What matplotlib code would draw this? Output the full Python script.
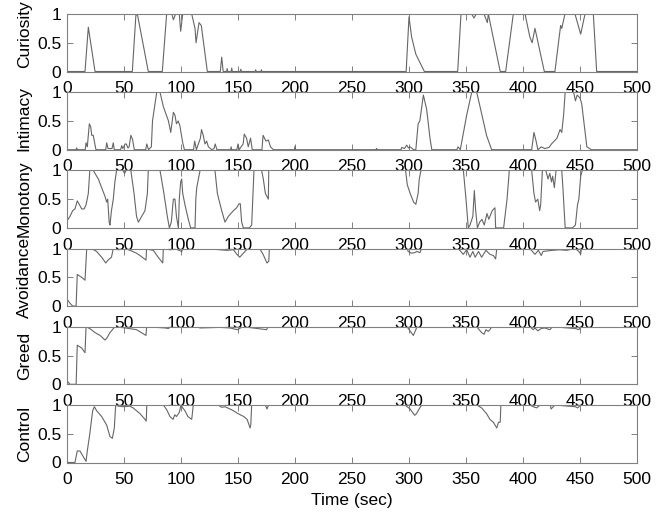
import numpy as np
import matplotlib
matplotlib.use("Agg")
import matplotlib.pyplot as plt

plt.rcParams['font.family'] = ['Liberation Sans', 'DejaVu Sans']

# emotion traces over time (sec, level 0..1)
curiosity_t = [0, 15.8, 18.7, 24.6, 57.3, 60.5, 62, 67, 71.3, 83.6, 87.4, 92, 93.3, 95.3, 98.5, 99.7, 101.5,
               109.4, 112.3, 113.2, 115.8, 117.8, 123.1, 134.5, 135.7, 137, 140, 140.5, 141, 144, 144.5, 145,
               152, 152.5, 153, 165, 165.5, 166, 170, 170.5, 171, 297.5, 300, 302.3, 306, 313.5, 342.7, 345.6,
               355, 357, 359, 365.8, 368.7, 369.6, 380, 384.8, 391.5, 401.8, 406, 408, 410.5, 418.7, 428, 433,
               434, 436.8, 445.6, 450.6, 454.4, 461.7, 464.6, 500]
curiosity_v = [0, 0, 0.77, 0, 0, 1, 0.97, 0.45, 0, 0, 1, 1, 0.9, 1, 1, 0.7, 1,
               1, 0.75, 0.5, 0.85, 0.8, 0, 0, 0.25, 0, 0, 0.05, 0, 0, 0.06, 0,
               0, 0.04, 0, 0, 0.03, 0, 0, 0.03, 0, 0, 0.95, 0.6, 0.3, 0, 0, 1,
               1, 0.93, 1, 1, 0.85, 1, 0, 0, 1, 1, 0.6, 0.5, 0.75, 0, 0, 0.8,
               0.75, 1, 1, 0.65, 1, 1, 0, 0]

intimacy_t = [0, 8, 8.5, 9, 16, 16.7, 17.8, 19.6, 20.8, 21.7, 23, 25.4, 34, 34.8, 36, 39.5, 40.6, 41.5, 47, 48,
              49, 51, 52, 53.5, 54.5, 56, 57.5, 59, 69, 70, 71.5, 74, 75, 78.7, 81.6, 84.5, 89, 91, 93.3, 94.7,
              96, 97.5, 99, 101.5, 103, 111, 112, 113.5, 117, 118, 119.5, 121, 122.5, 124, 127, 129, 130, 131.5,
              143.5, 144, 144.5, 149, 150, 151, 154.5, 155.5, 157.5, 159, 161, 162.5, 171, 172, 174.5, 176.6,
              178.5, 181, 199.5, 200, 200.5, 271, 271.6, 272, 293, 293.6, 296, 298, 299.5, 301, 304, 306, 308,
              309.5, 312.6, 315.5, 318.4, 320, 342, 343, 345, 350.6, 355, 359.4, 362.3, 368, 372.5, 407.6, 409.6,
              411.5, 413, 416, 419, 422.8, 425, 429.8, 432.5, 434, 435.6, 437, 444.4, 446, 447.5, 450, 451.5,
              456, 460, 500]
intimacy_v = [0, 0, 0.03, 0, 0, 0.12, 0.05, 0.45, 0.4, 0.25, 0.25, 0, 0, 0.12, 0.02, 0.02, 0.12, 0, 0, 0.07,
              0.02, 0.1, 0.1, 0.03, 0.05, 0.25, 0.18, 0, 0, 0.1, 0, 0.05, 0.5, 1, 1, 0.75, 0.5, 0.3, 0.65, 0.6,
              0.45, 0.5, 0.42, 0.12, 0, 0, 0.15, 0, 0.2, 0.35, 0.25, 0.1, 0.15, 0.05, 0, 0.02, 0.1, 0,
              0, 0.05, 0, 0, 0.1, 0, 0.1, 0.27, 0.2, 0.05, 0.2, 0, 0, 0.25, 0.15, 0.17,
              0.05, 0, 0, 0.06, 0, 0, 0.02, 0, 0, 0.04, 0.02, 0.08, 0.03, 0.05, 0, 0, 0.45,
              0.5, 0.95, 0.7, 0.2, 0, 0, 0.05, 0, 0.6, 1, 1, 0.75, 0.25, 0, 0, 0.3,
              0.15, 0, 0.05, 0.02, 0.04, 0.1, 0.2, 0.35, 0.3, 0.6, 1, 1, 0.85, 0.95, 0.9, 0.8,
              0.05, 0, 0]

monotony_t = [0, 2.6, 5, 7, 9, 11, 12.9, 15, 16.7, 18.7, 20, 23, 27.5, 30.4, 33.3, 34.8, 35.7, 37, 37.7, 39,
              40.6, 42, 43.5, 49, 50.5, 52, 56, 58.8, 61, 62.6, 65.5, 68.4, 70.5, 71.3, 81.6, 85, 88, 89.8,
              91.5, 93.3, 94.7, 96, 97.7, 98.5, 99.7, 100.6, 101.5, 103.5, 106.4, 108.5, 112.3, 113, 113.8,
              116.7, 129.8, 131.9, 135.7, 138.6, 141.5, 146, 148.8, 150.9, 152, 153.2, 154.7, 160, 162, 164,
              170.7, 172.2, 174, 176.6, 177, 297, 298.5, 301, 304, 306, 308, 309, 310.5, 347.7, 350, 352,
              353.5, 356, 357.3, 358.5, 360, 362, 364, 366, 368.4, 370, 373, 375.4, 376, 383, 386, 388, 407.6,
              409.6, 411, 413, 414.6, 415.5, 417, 420, 422, 423.5, 425, 426, 427.5, 429, 434, 435, 437, 443.3,
              446, 447.8, 449, 450.6, 452, 500]
monotony_v = [0.12, 0.2, 0.3, 0.33, 0.47, 0.4, 0.33, 0.33, 0.4, 0.6, 1, 1, 0.85, 0.7, 0.55, 0.45, 0.5, 0.1, 0.05, 0.3,
              0.5, 0.8, 1, 1, 0.95, 1, 1, 0.6, 0.2, 0.1, 0.2, 0.3, 0.6, 1, 1, 0.6, 0.2, 0,
              0.1, 0.5, 0.5, 0.2, 0, 0.5, 0.8, 0.85, 0.6, 0.4, 0.15, 0, 0, 0.5, 0.7,
              1, 1, 0.6, 0.3, 0.1, 0.2, 0.3, 0.35, 0.42, 0.42, 0.1, 0, 0, 0.05, 1,
              1, 0.85, 0.6, 0.5, 1, 1, 0.75, 0.6, 0.45, 0.41, 0.6, 0.85, 1, 1, 0.5, 0,
              0.05, 0.2, 0.65, 0.3, 0, 0.1, 0.15, 0.05, 0.25, 0.15, 0.3, 0.35, 0, 0, 0.5, 1, 1,
              0.6, 0.45, 0.5, 0.3, 0.4, 1, 1, 0.85, 0.95, 0.8, 0.9, 0.7, 1, 1, 0.7, 0, 0,
              0.05, 0.4, 0.5, 0.9, 1, 1]

avoidance_t = [0, 2.6, 5, 8, 9, 12.9, 15.8, 17.3, 21.6, 26, 30.4, 34, 36, 39, 40.6, 45, 51, 55.3, 61, 64,
               69.3, 69.8, 72.8, 75.7, 80, 84, 84.5, 90, 96, 100.6, 101.5, 128, 134, 140, 146, 149, 151.5,
               154.7, 157, 159, 169, 172, 175.4, 177, 177.5, 298, 299.4, 302, 305, 307, 309.6, 311, 343.3,
               347.6, 350.6, 353.5, 356, 358, 361, 363.7, 367.5, 371, 374, 376, 377, 406, 410.5, 413.5, 416,
               417.5, 421.6, 426, 432, 438, 446, 449, 450.6, 451.2, 500]
avoidance_v = [0.12, 0.05, 0, 0, 0.55, 0.5, 0.45, 1, 1, 0.95, 0.85, 0.75, 0.8, 0.85, 1, 0.98, 1, 0.97, 0.92, 0.88,
               0.8, 1, 0.98, 0.97, 0.85, 0.75, 1, 0.98, 0.99, 0.95, 1, 0.99, 0.98, 0.97, 0.98, 0.9, 0.85,
               0.92, 0.97, 1, 1, 0.9, 0.75, 0.78, 1, 1, 0.95, 0.92, 0.93, 0.95, 0.93, 1, 1,
               0.9, 0.98, 0.85, 0.95, 0.85, 0.95, 0.85, 0.97, 0.9, 0.88, 0.82, 1, 1, 0.9, 0.97, 0.88,
               0.95, 0.96, 0.97, 0.98, 0.97, 1, 0.95, 0.9, 1, 1]

greed_t = [0, 2.6, 8, 9, 12.9, 15.8, 16.7, 20, 24.5, 29, 33.3, 34.8, 37.7, 42, 51, 61, 69.3, 69.8, 86, 89,
           90.5, 115, 116.5, 134, 143, 147, 150, 152, 155, 175, 176.5, 298, 299.4, 303.8, 306, 307, 359.4,
           363.7, 365.8, 367.5, 369.5, 371, 372.5, 406, 409, 410.5, 413, 416, 419, 423.5, 426, 446, 449,
           450.6, 500]
greed_v = [0.06, 0, 0, 0.68, 0.63, 0.55, 1, 0.97, 0.9, 0.85, 0.77, 0.8, 0.9, 1, 0.98, 0.95, 0.85, 1, 0.98, 0.97,
           1, 1, 0.98, 0.99, 0.98, 0.96, 0.95, 0.98, 1, 0.95, 1, 1, 0.97, 0.85, 0.95, 1, 1,
           0.9, 0.87, 0.95, 0.92, 0.95, 1, 1, 0.95, 0.98, 0.93, 0.97, 0.98, 0.95, 1, 0.97, 0.95,
           1, 1]

control_t = [0, 1.2, 7, 9, 11.4, 14.3, 16.7, 17.8, 20, 22.5, 24, 26, 30.4, 34.8, 37.7, 39.8, 41.5, 42.7, 45,
             49.4, 55, 58, 64, 68.4, 69.5, 70, 84.5, 87.4, 90.3, 93, 94.5, 96, 98.5, 100, 101.5, 103.5, 106,
             109.4, 110.8, 132.6, 135.7, 138.6, 143, 146, 150, 155, 158, 160.6, 161.2, 162, 174, 175.4, 176.8,
             296.5, 301, 305, 306.5, 311, 359.4, 363.7, 368, 371, 374, 377, 378.5, 380, 380.6, 406, 409, 412,
             415, 424, 424.6, 426.5, 428, 446, 448, 450.6, 500]
control_v = [0.02, 0, 0, 0.2, 0.2, 0.1, 0.02, 0.2, 0.5, 0.9, 0.97, 0.9, 0.8, 0.65, 0.45, 0.42, 0.6, 1, 0.98,
             0.97, 0.98, 0.95, 0.85, 0.75, 0.72, 1, 1, 0.92, 0.8, 0.75, 0.83, 0.8, 0.87, 1, 0.95, 0.9, 0.8,
             0.75, 1, 1, 0.96, 0.97, 0.93, 0.9, 0.85, 0.8, 0.75, 0.6, 0.65, 1, 1, 0.93, 1,
             1, 0.93, 0.82, 0.85, 1, 1, 0.95, 0.85, 0.75, 0.7, 0.6, 0.7, 0.7, 1, 1, 0.97, 0.95,
             1, 1, 0.93, 0.97, 1, 0.97, 0.95, 1, 1]

names = ["Curiosity", "Intimacy", "Monotony", "Avoidance", "Greed", "Control"]
series = [(curiosity_t, curiosity_v), (intimacy_t, intimacy_v), (monotony_t, monotony_v),
          (avoidance_t, avoidance_v), (greed_t, greed_v), (control_t, control_v)]
label_y = [0.65, 0.54, 0.5, 0.5, 0.5, 0.5]

W, H = 670, 512
fig = plt.figure(figsize=(W / 100, H / 100), dpi=100)

left, right = 67, 637
panel_h = 57.5
step = 78.2
axes = []
for i, (name, (t, v)) in enumerate(zip(names, series)):
    top = 14 + step * i
    ax = fig.add_axes([left / W, 1 - (top + panel_h) / H, (right - left) / W, panel_h / H])
    ax.set_facecolor('none')
    ax.plot(t, v, color='#666666', lw=0.8)
    ax.set_xlim(0, 500)
    ax.set_ylim(0, 1)
    ax.set_xticks(np.arange(0, 501, 50))
    ax.set_yticks([0, 0.5, 1])
    ax.set_yticklabels(['0', '0.5', '1'])
    ax.tick_params(direction='in', length=4, width=0.7, color='#808080', labelsize=12.5,
                   top=True, right=True)
    ax.tick_params(axis='x', pad=7)
    ax.tick_params(axis='y', pad=4)
    for s in ax.spines.values():
        s.set_color('#808080')
        s.set_linewidth(0.8)
    ax.set_ylabel(name, fontsize=12.5)
    ax.yaxis.set_label_coords(-0.062, label_y[i])
    axes.append(ax)

axes[-1].set_xlabel('Time (sec)', fontsize=12.5, labelpad=4)

fig.savefig('out.png', dpi=100)
